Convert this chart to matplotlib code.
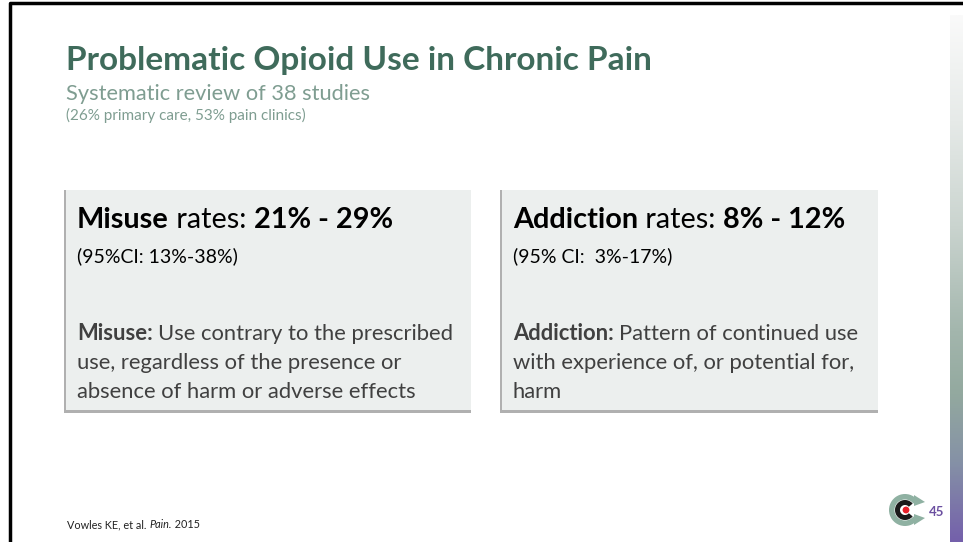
import numpy as np
import matplotlib
matplotlib.use("Agg")
import matplotlib.pyplot as plt
from matplotlib.patches import Rectangle, Wedge, Circle, Polygon
from matplotlib.colors import LinearSegmentedColormap

# slide content
title = "Problematic Opioid Use in Chronic Pain"
subtitle = "Systematic review of 38 studies"
subnote = "(26% primary care, 53% pain clinics)"
footer = [("Vowles KE, et al. ", "normal"), ("Pain.", "italic"), (" 2015", "normal")]
page_no = "45"

box_headings = [
    [("Misuse", "bold"), (" rates: ", "normal"), ("21% - 29%", "bold")],
    [("Addiction", "bold"), (" rates: ", "normal"), ("8% - 12%", "bold")],
]
box_ci = ["(95%CI: 13%-38%)", "(95% CI:  3%-17%)"]
box_terms = ["Misuse:", "Addiction:"]
box_defs = [
    ["Use contrary to the prescribed", "use, regardless of the presence or",
     "absence of harm or adverse effects"],
    ["Pattern of continued use", "with experience of, or potential for,", "harm"],
]

FONT = "Lato"
W, H = 963, 542

fig = plt.figure(figsize=(W / 100, H / 100), dpi=100)
ax = fig.add_axes([0, 0, 1, 1])
ax.set_xlim(0, W)
ax.set_ylim(H, 0)
ax.axis("off")
fig.patch.set_facecolor("white")
fig.canvas.draw()
renderer = fig.canvas.get_renderer()


def run_text(x, y, parts, size, color):
    # draw text segments one after the other, advancing x by each width
    for s, style in parts:
        weight = "bold" if style == "bold" else "normal"
        fstyle = "italic" if style == "italic" else "normal"
        t = ax.text(x, y, s, fontsize=size, color=color, family=FONT,
                    fontweight=weight, fontstyle=fstyle, va="baseline", ha="left",
                    zorder=6)
        bb = t.get_window_extent(renderer=renderer)
        x += bb.width
    return x


# border of the slide (cropped)
ax.plot([10, 10, W], [H, 3, 3], color="black", lw=2.5, solid_capstyle="butt")

# right gradient strip
stops = [(0.0, "#fafafa"), (0.2, "#e6eae8"), (0.4, "#cad4cf"),
         (0.6, "#a3b6ad"), (0.72, "#93a99f"), (0.85, "#8591a6"), (1.0, "#7460ab")]
cmap = LinearSegmentedColormap.from_list("strip", stops)
grad = np.linspace(0, 1, 256).reshape(-1, 1)
ax.imshow(grad, cmap=cmap, extent=[950, W, H, 15], aspect="auto", zorder=1)

# title block
ax.text(66, 70, title, fontsize=24, fontweight="bold", color="#3f6b5b",
        family=FONT, va="baseline")
ax.text(66, 100, subtitle, fontsize=15.7, color="#7f9d91", family=FONT, va="baseline")
ax.text(66, 120, subnote, fontsize=11, color="#7f9d91", family=FONT, va="baseline")

# two boxes
boxes = [(66, 190, 405, 220), (502, 190, 376, 220)]
for i, (bx, by, bw, bh) in enumerate(boxes):
    ax.add_patch(Rectangle((bx - 2, by), bw + 2, bh + 3, facecolor="#b0b0b0",
                           edgecolor="none", zorder=2))
    ax.add_patch(Rectangle((bx, by), bw, bh, facecolor="#ecefee",
                           edgecolor="none", zorder=3))
    tx = bx + 11
    run_text(tx, by + 38, box_headings[i], 20.8, "black")
    ax.text(tx, by + 72, box_ci[i], fontsize=14, color="black", family=FONT,
            va="baseline", zorder=6)
    x_end = run_text(tx, by + 150, [(box_terms[i], "bold")], 15.8, "#404040")
    lines = box_defs[i]
    ax.text(x_end + 5, by + 150, lines[0], fontsize=15.8, color="#404040",
            family=FONT, va="baseline", zorder=6)
    for k, line in enumerate(lines[1:]):
        ax.text(tx, by + 150 + 29 * (k + 1), line, fontsize=15.8, color="#404040",
                family=FONT, va="baseline", zorder=6)

# footer citation
run_text(67, 528, footer, 7.8, "#222222")

# logo
cx, cy = 905, 510
green = "#8fb1a2"
ax.add_patch(Wedge((cx, cy), 16, 38, 322, width=5.5, facecolor=green,
                   edgecolor="none", zorder=5))
ax.add_patch(Polygon([[cx + 9, cy - 15], [cx + 20, cy - 8], [cx + 9, cy - 4]],
                     closed=True, facecolor=green, edgecolor="none", zorder=5))
ax.add_patch(Polygon([[cx + 9, cy + 15], [cx + 20, cy + 8], [cx + 9, cy + 4]],
                     closed=True, facecolor=green, edgecolor="none", zorder=5))
ax.add_patch(Wedge((cx, cy), 10, 40, 320, width=5, facecolor="#1a1a1a",
                   edgecolor="none", zorder=5))
ax.add_patch(Circle((cx + 1, cy), 3.4, facecolor="#e8202a", edgecolor="none", zorder=6))
ax.text(929, 516, page_no, fontsize=9.5, fontweight="bold", color="#6b4fa0",
        family=FONT, va="baseline")

fig.savefig("out.png", dpi=100)
